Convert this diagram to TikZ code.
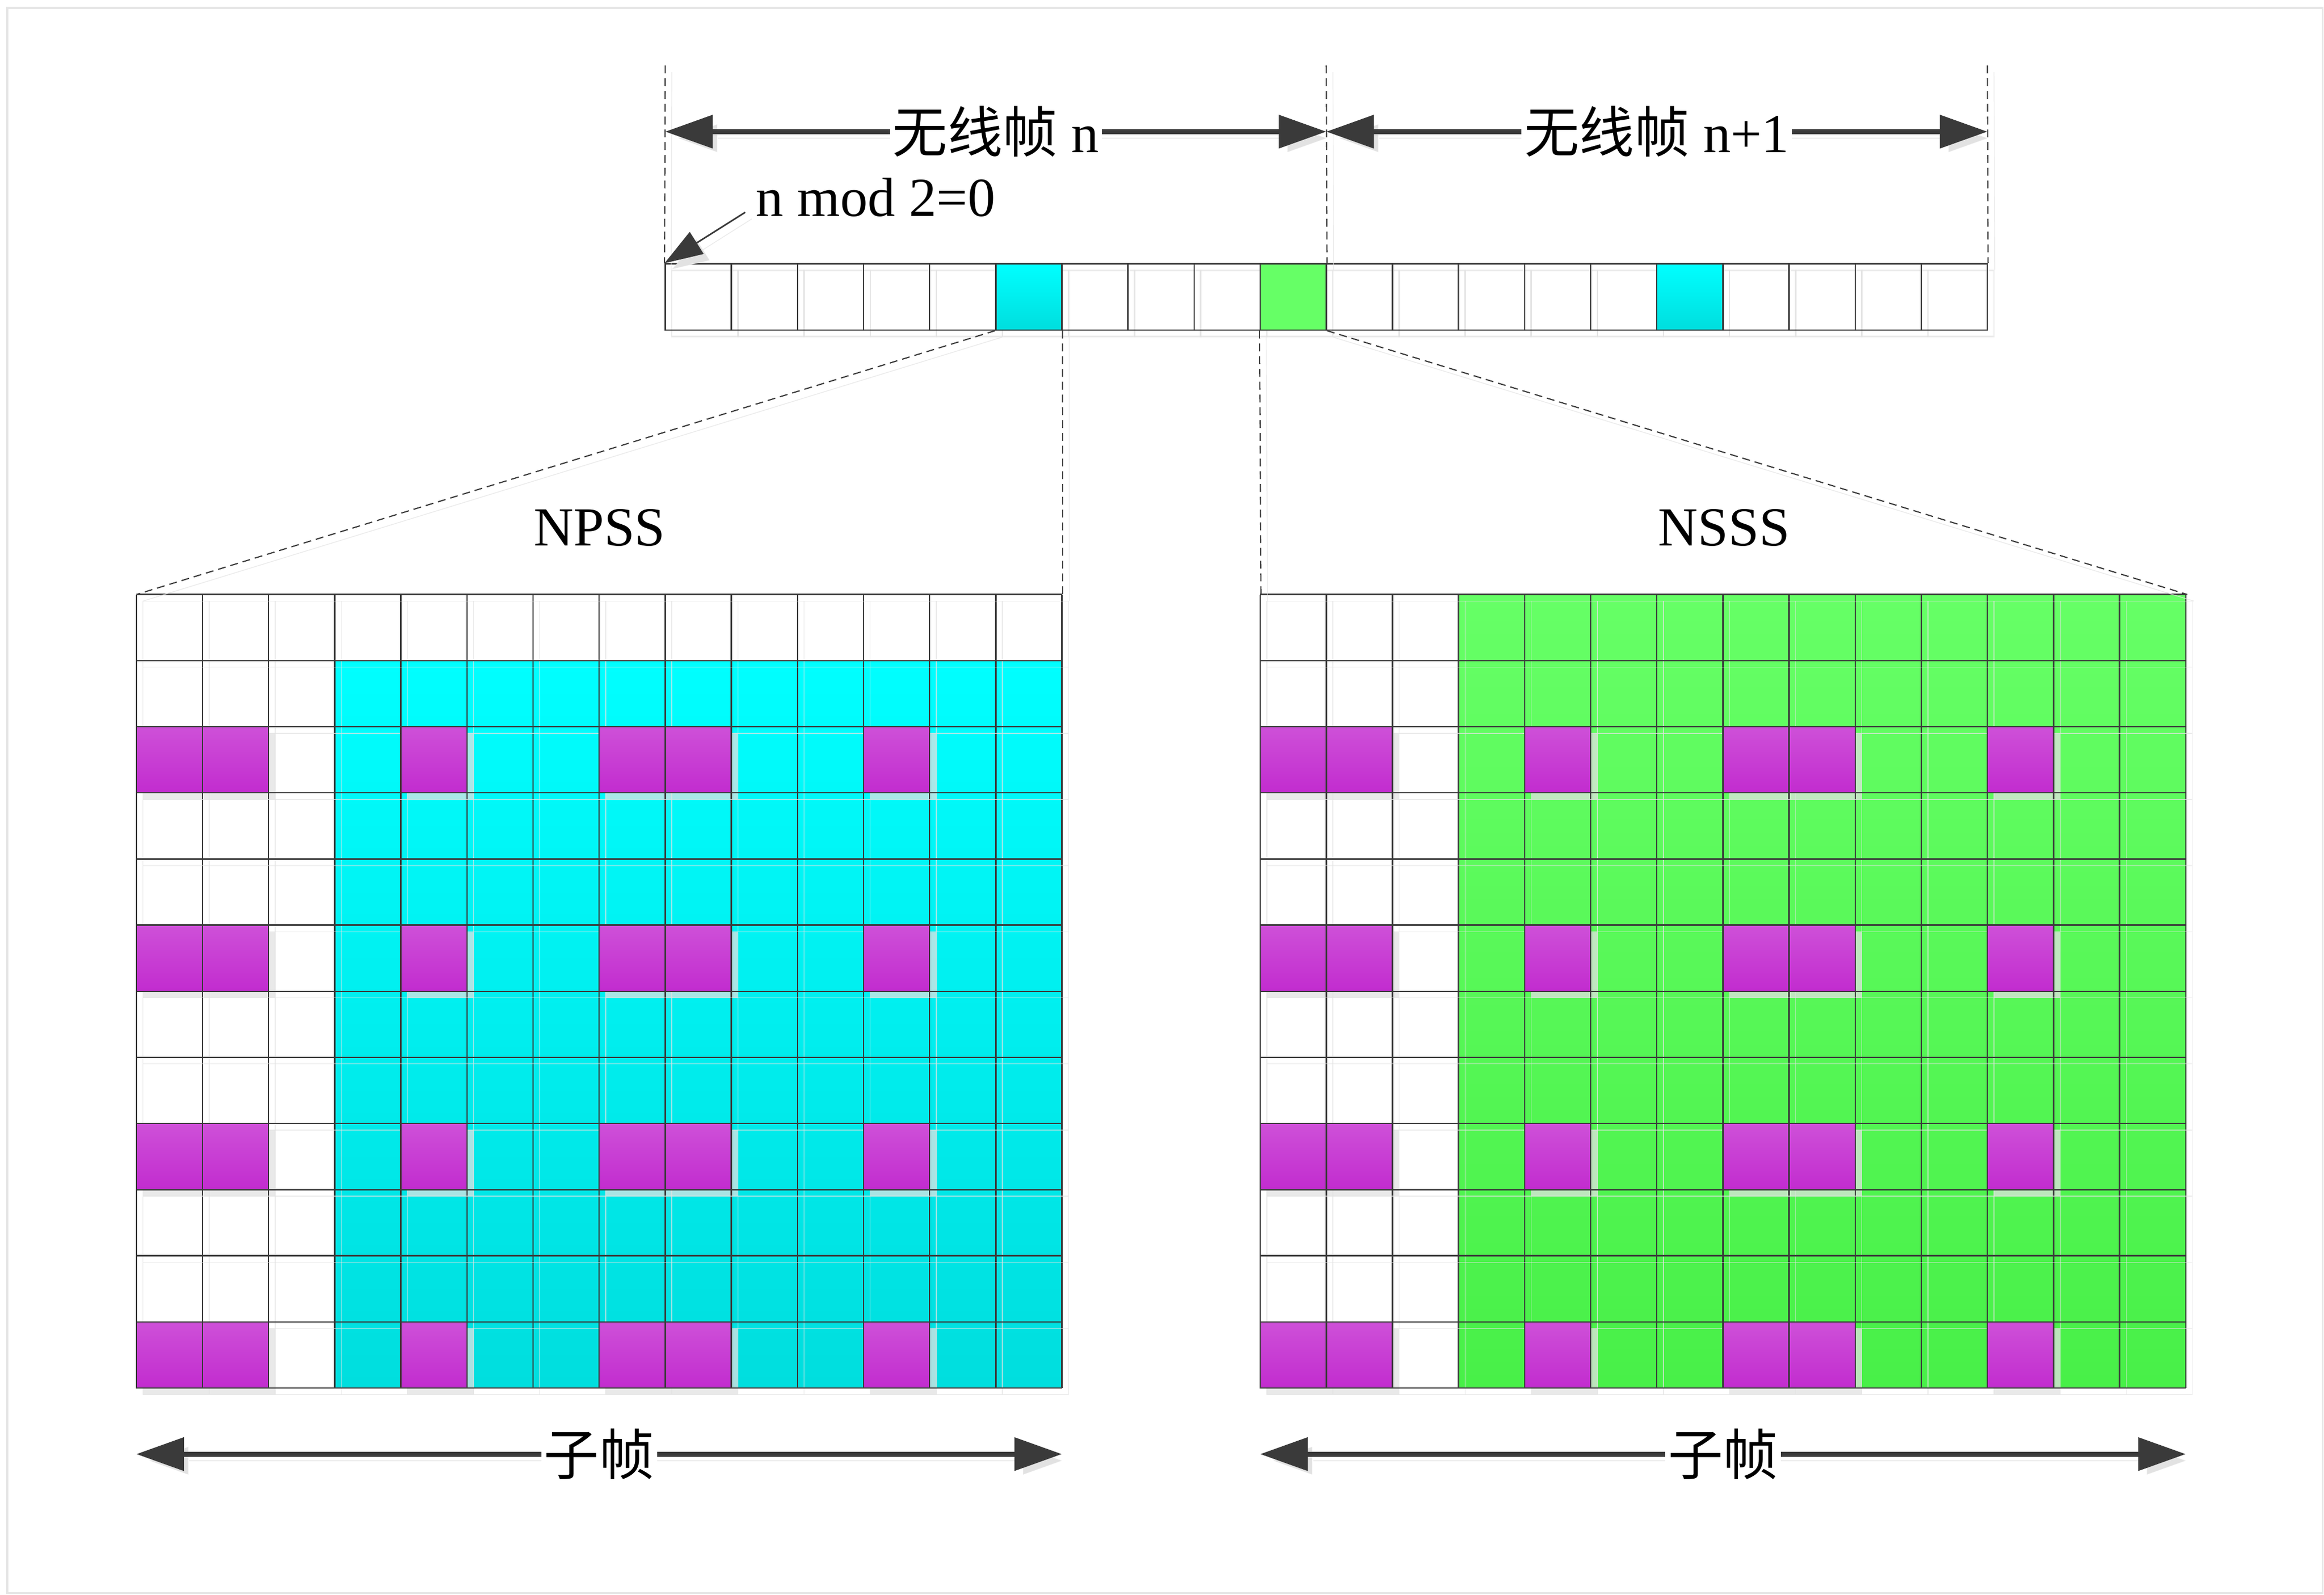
\documentclass[tikz,border=0pt]{standalone}
\usepackage{fontspec}
\setmainfont{Liberation Serif}
\newfontfamily\cjk{Noto Sans CJK SC}
\usetikzlibrary{arrows.meta}
\usetikzlibrary{positioning}
\definecolor{cyanT}{HTML}{00FFFF}
\definecolor{cyanB}{HTML}{00DEDE}
\definecolor{greenT}{HTML}{66FF66}
\definecolor{greenB}{HTML}{48F048}
\definecolor{purT}{HTML}{CE50D8}
\definecolor{purB}{HTML}{C22CCF}
\definecolor{ln}{HTML}{3A3A3A}
\definecolor{shc}{HTML}{E2E2E2}
\tikzset{
    shd/.style={preaction={draw=shc, draw opacity=.7, transform canvas={shift={(0.118cm,-0.118cm)}}}},
    cellbox/.style={draw=ln, line width=0.7pt, minimum size=1.182cm, inner sep=0pt, shd},
    gridbox/.style={minimum width=16.548cm, minimum height=14.184cm, inner sep=0pt},
    gridln/.style={draw=ln, line width=0.7pt, shd},
    sf5/.style={top color=cyanT, bottom color=cyanB},
    sf9/.style={fill=greenT},
    sf15/.style={top color=cyanT, bottom color=cyanB},
    pur/.style={draw=ln, line width=0.7pt, top color=purT, bottom color=purB},
    purshd/.style={fill=shc, fill opacity=.75},
    dsh/.style={draw=ln, line width=0.6pt, dash pattern=on 4pt off 2.5pt, shd},
    dimarr/.style={draw=ln, line width=2.5pt, >={Triangle[length=0.85cm, width=0.58cm]}, <->, shd},
    ptr/.style={draw=ln, line width=0.8pt, >={Triangle[length=0.68cm, width=0.46cm]}, ->, shd},
    lab/.style={fill=white, inner sep=1.5pt}
}
\begin{document}
\begin{tikzpicture}[x=1.182cm, y=-1.182cm, font=\fontsize{28}{34}\selectfont]
        \useasboundingbox (-2.063,-8.991) rectangle (33.092,15.131);
        \draw[draw=black!10, line width=1pt] (-1.953,-8.872) rectangle (33.07,15.10);
        \foreach \i in {0,...,19}
            \node[cellbox, sf\i/.try] (f\i) at (8.5+\i,-4.5) {};
        \coordinate (t0) at (8,-8);
        \coordinate (t1) at (18,-8);
        \coordinate (t2) at (28,-8);
        \coordinate (a0) at (8,-7);
        \coordinate (a1) at (18,-7);
        \coordinate (a2) at (28,-7);
        \draw[dsh] (t0) -- (f0.north west);
        \draw[dsh] (t1) -- (f9.north east);
        \draw[dsh] (t2) -- (f19.north east);
        \draw[dimarr] (a0) -- node[lab] {{\cjk 无线帧} n} (a1);
        \draw[dimarr] (a1) -- node[lab] {{\cjk 无线帧} n+1} (a2);
        \node[anchor=base west, inner sep=0pt] (nmod) at (9.37,-5.72) {n mod 2=0};
        \draw[ptr] ([shift={(-0.16,-0.06)}]nmod.base west) -- (f0.north west);
        \node[gridbox, anchor=north west] (gl) at (0,0) {};
        \node[gridbox, right=3.546cm of gl] (gr) {};
        \node[above=0.85cm of gl, inner sep=0pt] (npss) {NPSS};
        \node[above=0.85cm of gr, inner sep=0pt] (nsss) {NSSS};
        \fill[top color=cyanT, bottom color=cyanB] (3,1) rectangle (14,12);
        \fill[top color=greenT, bottom color=greenB] (20,0) rectangle (31,12);
        \foreach \r in {2,5,8,11}
            \foreach \c in {0,1,4,7,8,11} {
                \fill[purshd] (\c+0.1,\r+0.1) rectangle +(1,1);
                \fill[purshd] (17.1+\c,\r+0.1) rectangle +(1,1);
            }
        \foreach \x in {0,...,14} {
            \draw[gridln] (\x,0) -- (\x,12);
            \draw[gridln] (17+\x,0) -- (17+\x,12);
        }
        \foreach \y in {0,...,12} {
            \draw[gridln] (0,\y) -- (14,\y);
            \draw[gridln] (17,\y) -- (31,\y);
        }
        \foreach \r in {2,5,8,11}
            \foreach \c in {0,1,4,7,8,11} {
                \draw[pur] (\c,\r) rectangle +(1,1);
                \draw[pur] (17+\c,\r) rectangle +(1,1);
            }
        \draw[dsh] (f5.south west) -- (gl.north west);
        \draw[dsh] (f5.south east) -- (gl.north east);
        \draw[dsh] (f9.south west) -- (gr.north west);
        \draw[dsh] (f9.south east) -- (gr.north east);
        \coordinate (b0) at (0,13);
        \coordinate (b1) at (14,13);
        \coordinate (b2) at (17,13);
        \coordinate (b3) at (31,13);
        \draw[dimarr] (b0) -- node[lab] {\cjk 子帧} (b1);
        \draw[dimarr] (b2) -- node[lab] {\cjk 子帧} (b3);
\end{tikzpicture}
\end{document}
